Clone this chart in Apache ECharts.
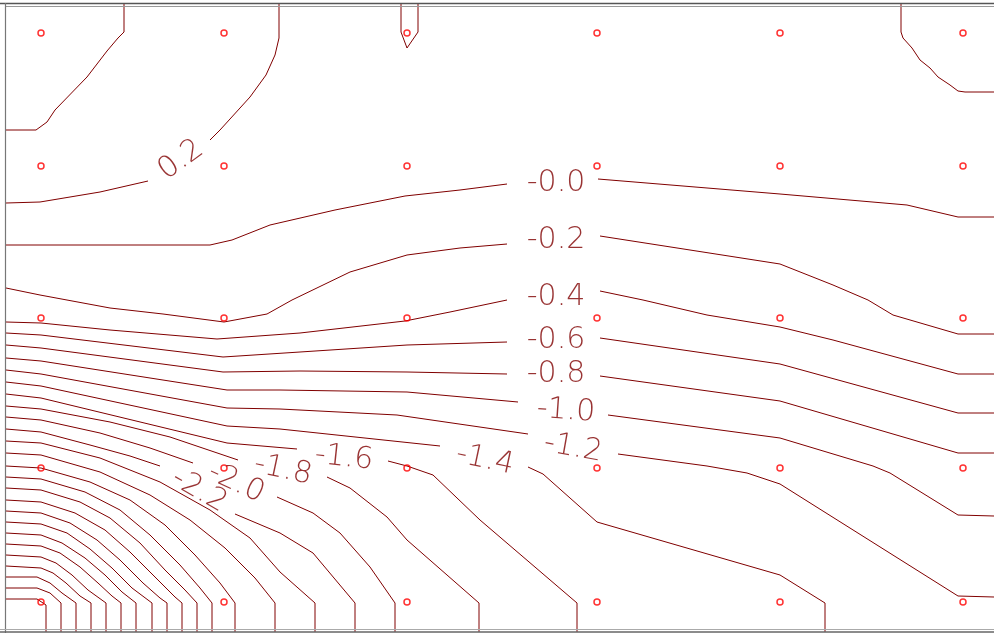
<!DOCTYPE html>
<html>
<head>
<meta charset="utf-8">
<script src="https://cdn.jsdelivr.net/npm/echarts@6/dist/echarts.min.js"></script>
<style>html,body{margin:0;padding:0;background:#fff}#c{width:994px;height:633px}</style>
</head>
<body>
<div id="c"></div>
<script>
// Sample grid points (red circles)
const gridXs = [41, 224, 407, 597, 780, 963];
const gridYs = [33, 166, 318, 468, 602];

// Contour polylines (data units), split where labels interrupt them
const c04 = [[124,4],[124,32],[118,38],[107,51],[87,77],[55,110],[47,122],[36,130],[6,130]];
const c02a = [[279,4],[279,38],[275,55],[266,75],[250,97],[220,130],[210,140]];
const c02b = [[148,181],[100,192],[40,202],[6,203]];
const c02c = [[401,4],[401,32],[407,48],[418,32],[418,4]];
const c02d = [[901,4],[901,32],[903,38],[912,48],[920,60],[930,68],[938,77],[950,85],[958,91],[965,92],[994,92]];
const c00a = [[6,245],[210,245],[232,240],[270,225],[335,210],[405,196],[460,190],[507,184]];
const c00b = [[598,179],[780,194],[907,205],[958,217],[994,217]];
const cm02a = [[6,288],[40,295],[110,308],[163,314],[224,322],[267,314],[292,300],[350,272],[407,255],[460,248],[507,244]];
const cm02b = [[600,236],[780,264],[833,285],[868,300],[893,315],[958,334],[994,334]];
const cm04a = [[6,322],[41,323],[110,330],[217,339],[300,333],[405,321],[450,312],[507,300]];
const cm04b = [[600,291],[643,300],[707,315],[780,327],[833,340],[958,374],[994,374]];
const cm06a = [[6,333],[41,335],[223,357],[300,352],[407,345],[507,342]];
const cm06b = [[600,338],[780,364],[958,413],[994,413]];
const cm08a = [[6,345],[41,348],[223,372],[300,371],[407,372],[507,374]];
const cm08b = [[600,376],[780,401],[958,453],[994,453]];
const cm10a = [[6,358],[41,361],[227,390],[280,390],[407,392],[518,402]];
const cm10b = [[608,415],[780,438],[873,466],[890,473],[958,515],[994,516]];
const cm12a = [[6,370],[41,374],[227,408],[280,409],[397,415],[528,434]];
const cm12b = [[618,454],[707,466],[747,473],[780,484],[958,596],[994,597]];
const cm14a = [[6,382],[41,386],[227,426],[280,429],[440,446]];
const cm14b = [[528,467],[543,474],[597,522],[780,575],[825,603],[825,632]];
const cm16a = [[6,394],[41,398],[227,443],[297,449]];
const cm16b = [[388,461],[407,466],[433,475],[480,520],[577,603],[577,632]];
const cm18a = [[6,406],[41,409],[110,422],[170,437],[238,460]];
const cm18b = [[327,477],[350,488],[387,517],[407,540],[479,603],[479,632]];
const cm20a = [[6,417],[41,420],[100,433],[150,448],[193,463]];
const cm20b = [[277,497],[313,513],[340,533],[370,567],[395,603],[395,632]];
const cm22a = [[6,429],[41,432],[90,445],[130,456],[160,466]];
const cm22b = [[235,514],[280,533],[313,553],[355,603],[355,632]];
const cm24 = [[6,441],[41,443],[100,458],[160,482],[210,510],[250,538],[280,572],[315,603],[315,632]];
const cm26 = [[6,453],[41,455],[100,472],[150,495],[190,520],[225,548],[255,578],[275,603],[275,632]];
const cm28 = [[6,466],[41,468],[90,482],[130,500],[165,525],[195,555],[220,583],[235,603],[235,632]];
const cm30 = [[6,477],[41,479],[85,492],[120,510],[150,535],[180,565],[200,588],[212,603],[212,632]];
const cm32 = [[6,488],[41,490],[80,502],[110,518],[140,543],[165,570],[185,590],[197,603],[197,632]];
const cm34 = [[6,500],[41,502],[75,513],[105,530],[130,552],[155,577],[175,597],[182,603],[182,632]];
const cm36 = [[6,511],[41,513],[70,523],[97,540],[120,560],[143,583],[160,598],[167,603],[167,632]];
const cm38 = [[6,522],[41,524],[67,533],[90,549],[112,568],[132,588],[152,603],[152,632]];
const cm40 = [[6,533],[41,535],[62,543],[85,558],[105,575],[122,592],[136,603],[136,632]];
const cm42 = [[6,544],[41,546],[60,553],[80,567],[98,583],[112,596],[121,603],[121,632]];
const cm44 = [[6,555],[41,557],[56,563],[72,575],[88,590],[106,603],[106,632]];
const cm46 = [[6,566],[41,568],[53,573],[66,583],[80,596],[91,603],[91,632]];
const cm48 = [[6,577],[37,577],[50,583],[62,593],[76,603],[76,632]];
const cm50 = [[6,588],[37,588],[50,593],[61,603],[61,632]];
const cm52 = [[6,599],[37,599],[46,605],[46,632]];

// Contour labels
const labelText = ['0.2','-0.0','-0.2','-0.4','-0.6','-0.8','-1.0','-1.2','-1.4','-1.6','-1.8','-2.0','-2.2'];
const labelX = [181,556,556,556,556,556,566,573,485,344,283,236,199];
const labelY = [160,183,240,297,340,374,411,448,460,458,470,483,491];
const labelRot = [36,0,0,0,0,0,-4,-10,-12,-6,-12,-25,-30];

const contours = [c04,c02a,c02b,c02c,c02d,c00a,c00b,cm02a,cm02b,cm04a,cm04b,cm06a,cm06b,cm08a,cm08b,
  cm10a,cm10b,cm12a,cm12b,cm14a,cm14b,cm16a,cm16b,cm18a,cm18b,cm20a,cm20b,cm22a,cm22b,
  cm24,cm26,cm28,cm30,cm32,cm34,cm36,cm38,cm40,cm42,cm44,cm46,cm48,cm50,cm52];

const LINE = '#800000';
const series = contours.map(d => ({
  type: 'line', data: d, showSymbol: false, silent: true, smooth: false,
  lineStyle: { color: LINE, width: 1 }, z: 2
}));

const pts = [];
gridYs.forEach(y => gridXs.forEach(x => pts.push([x, y])));
series.push({
  type: 'scatter', data: pts, symbol: 'circle', symbolSize: 6, silent: true,
  itemStyle: { color: 'rgba(255,255,255,0)', borderColor: '#ff0000', borderWidth: 1.5 }, z: 3
});
series.push({
  type: 'scatter', symbolSize: 0, silent: true, z: 4,
  data: labelText.map((t, i) => ({
    name: t, value: [labelX[i], labelY[i]],
    label: { show: true, position: 'inside', formatter: t, rotate: labelRot[i],
      color: LINE, fontFamily: 'DejaVu Sans', fontSize: 30, fontWeight: 200,
      align: 'center', verticalAlign: 'middle' }
  }))
});

const chart = echarts.init(document.getElementById('c'), null, { renderer: 'canvas' });
chart.setOption({
  animation: false,
  backgroundColor: '#fff',
  grid: { left: 0, right: 0, top: 0, bottom: 0 },
  xAxis: { type: 'value', min: 0, max: 994, show: false },
  yAxis: { type: 'value', min: 0, max: 633, inverse: true, show: false },
  graphic: [
    { type: 'line', shape: { x1: 0, y1: 3.5, x2: 994, y2: 3.5 }, style: { stroke: '#555', lineWidth: 1.5 }, z: 10 },
    { type: 'line', shape: { x1: 6, y1: 6.5, x2: 994, y2: 6.5 }, style: { stroke: '#999', lineWidth: 1 }, z: 10 },
    { type: 'line', shape: { x1: 5.5, y1: 3, x2: 5.5, y2: 633 }, style: { stroke: '#777', lineWidth: 1.2 }, z: 10 },
    { type: 'line', shape: { x1: 0, y1: 629.5, x2: 994, y2: 629.5 }, style: { stroke: '#aaa', lineWidth: 1 }, z: 10 },
    { type: 'line', shape: { x1: 0, y1: 632, x2: 994, y2: 632 }, style: { stroke: '#666', lineWidth: 1.5 }, z: 10 }
  ],
  series: series
});
</script>
</body>
</html>
